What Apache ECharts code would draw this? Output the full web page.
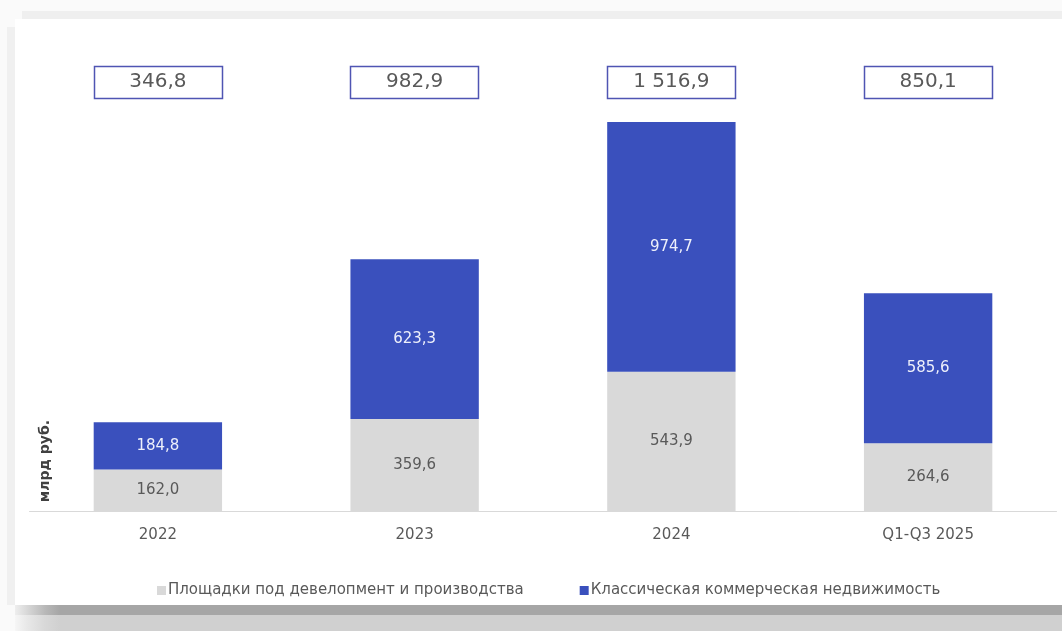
<!DOCTYPE html>
<html><head><meta charset="utf-8">
<script src="https://cdn.jsdelivr.net/npm/echarts@6/dist/echarts.min.js"></script>
<style>
html,body{margin:0;padding:0;background:#fafafa;}
#wrap{position:relative;width:1062px;height:631px;overflow:hidden;background:#fafafa;}
#topband{position:absolute;left:22px;top:11px;width:1040px;height:8px;background:#efefef;}
#leftband{position:absolute;left:7px;top:27px;width:8px;height:578px;background:#f0f0f0;}
#panel{position:absolute;left:15px;top:19px;width:1047px;height:586px;background:#ffffff;}
#bot1{position:absolute;left:15px;top:605px;width:1047px;height:10px;background:linear-gradient(to right,#eeeeee 0px,#d8d8d8 12px,#b8b8b8 30px,#a6a6a6 45px,#a6a6a6 100%);}
#bot2{position:absolute;left:15px;top:615px;width:1047px;height:16px;background:linear-gradient(to right,#f6f6f6 0px,#e8e8e8 12px,#d8d8d8 30px,#d0d0d0 45px,#d0d0d0 100%);}
#chart{position:absolute;left:0;top:0;width:1062px;height:631px;}
</style></head>
<body><div id="wrap">
<div id="topband"></div><div id="leftband"></div><div id="panel"></div><div id="bot1"></div><div id="bot2"></div>
<div id="chart"></div></div>
<script>
const categories = ['2022', '2023', '2024', 'Q1-Q3 2025'];
const sitesValues = [162.0, 359.6, 543.9, 264.6];
const commercialValues = [184.8, 623.3, 974.7, 585.6];
const totals = [346.8, 982.9, 1516.9, 850.1];
const seriesNames = ['Площадки под девелопмент и производства', 'Классическая коммерческая недвижимость'];
const unitLabel = 'млрд руб.';

function fmt(v) {
  const parts = v.toFixed(1).split('.');
  parts[0] = parts[0].replace(/\B(?=(\d{3})+(?!\d))/g, '\u00a0');
  return parts[0] + ',' + parts[1];
}
const stackMax = Math.max(...sitesValues.map((v, i) => v + commercialValues[i]));
const FONT = 'DejaVu Sans';

const chart = echarts.init(document.getElementById('chart'), null, {renderer: 'canvas'});
chart.setOption({
  animation: false,
  backgroundColor: 'transparent',
  textStyle: {fontFamily: FONT},
  grid: {left: 29.5, right: 5.5, top: 122, bottom: 120},
  legend: {
    data: seriesNames,
    left: 152, top: 578,
    itemWidth: 9, itemHeight: 9, itemGap: 56,
    icon: 'rect',
    textStyle: {color: '#595959', fontSize: 15, fontFamily: FONT, padding: [0, 0, 0, -3]}
  },
  xAxis: {
    type: 'category', data: categories,
    axisLine: {lineStyle: {color: '#d9d9d9', width: 1}},
    axisTick: {show: false},
    axisLabel: {color: '#595959', fontSize: 15, margin: 17, fontFamily: FONT}
  },
  yAxis: {type: 'value', min: 0, max: stackMax, show: false, splitLine: {show: false}},
  graphic: [{
    type: 'text', left: 38, top: 420, rotation: Math.PI / 2,
    style: {text: unitLabel, fill: '#404040', font: 'bold 14px "' + FONT + '"'}
  }],
  series: [
    {
      name: seriesNames[0], type: 'bar', stack: 's', barWidth: '50%',
      data: sitesValues,
      itemStyle: {color: '#d9d9d9'},
      label: {show: true, position: 'inside', color: '#595959', fontSize: 15, fontFamily: FONT, formatter: p => fmt(p.value)}
    },
    {
      name: seriesNames[1], type: 'bar', stack: 's', barWidth: '50%',
      data: commercialValues,
      itemStyle: {color: '#3a50bd'},
      label: {show: true, position: 'inside', color: '#eef0fb', fontSize: 15, fontFamily: FONT, formatter: p => fmt(p.value)}
    },
    {
      name: 'totals', type: 'custom',
      data: totals.map((t, i) => [i, t]),
      encode: {x: 0, y: 1},
      z: 10,
      renderItem: function (params, api) {
        const cx = api.coord([api.value(0), 0])[0];
        const w = api.size([1, 0])[0] * 0.5;
        const top = params.coordSys.y - 56;
        return {
          type: 'group',
          children: [
            {type: 'rect', shape: {x: Math.round(cx - w / 2) + 0.5, y: top + 0.5, width: Math.round(w), height: 32},
             style: {fill: '#ffffff', stroke: '#4f55b3', lineWidth: 1.5}},
            {type: 'text', x: cx, y: top + 16,
             style: {text: fmt(api.value(1)), fill: '#595959', font: '20px "' + FONT + '"', align: 'center', verticalAlign: 'middle'}}
          ]
        };
      }
    }
  ]
});
</script></body></html>
